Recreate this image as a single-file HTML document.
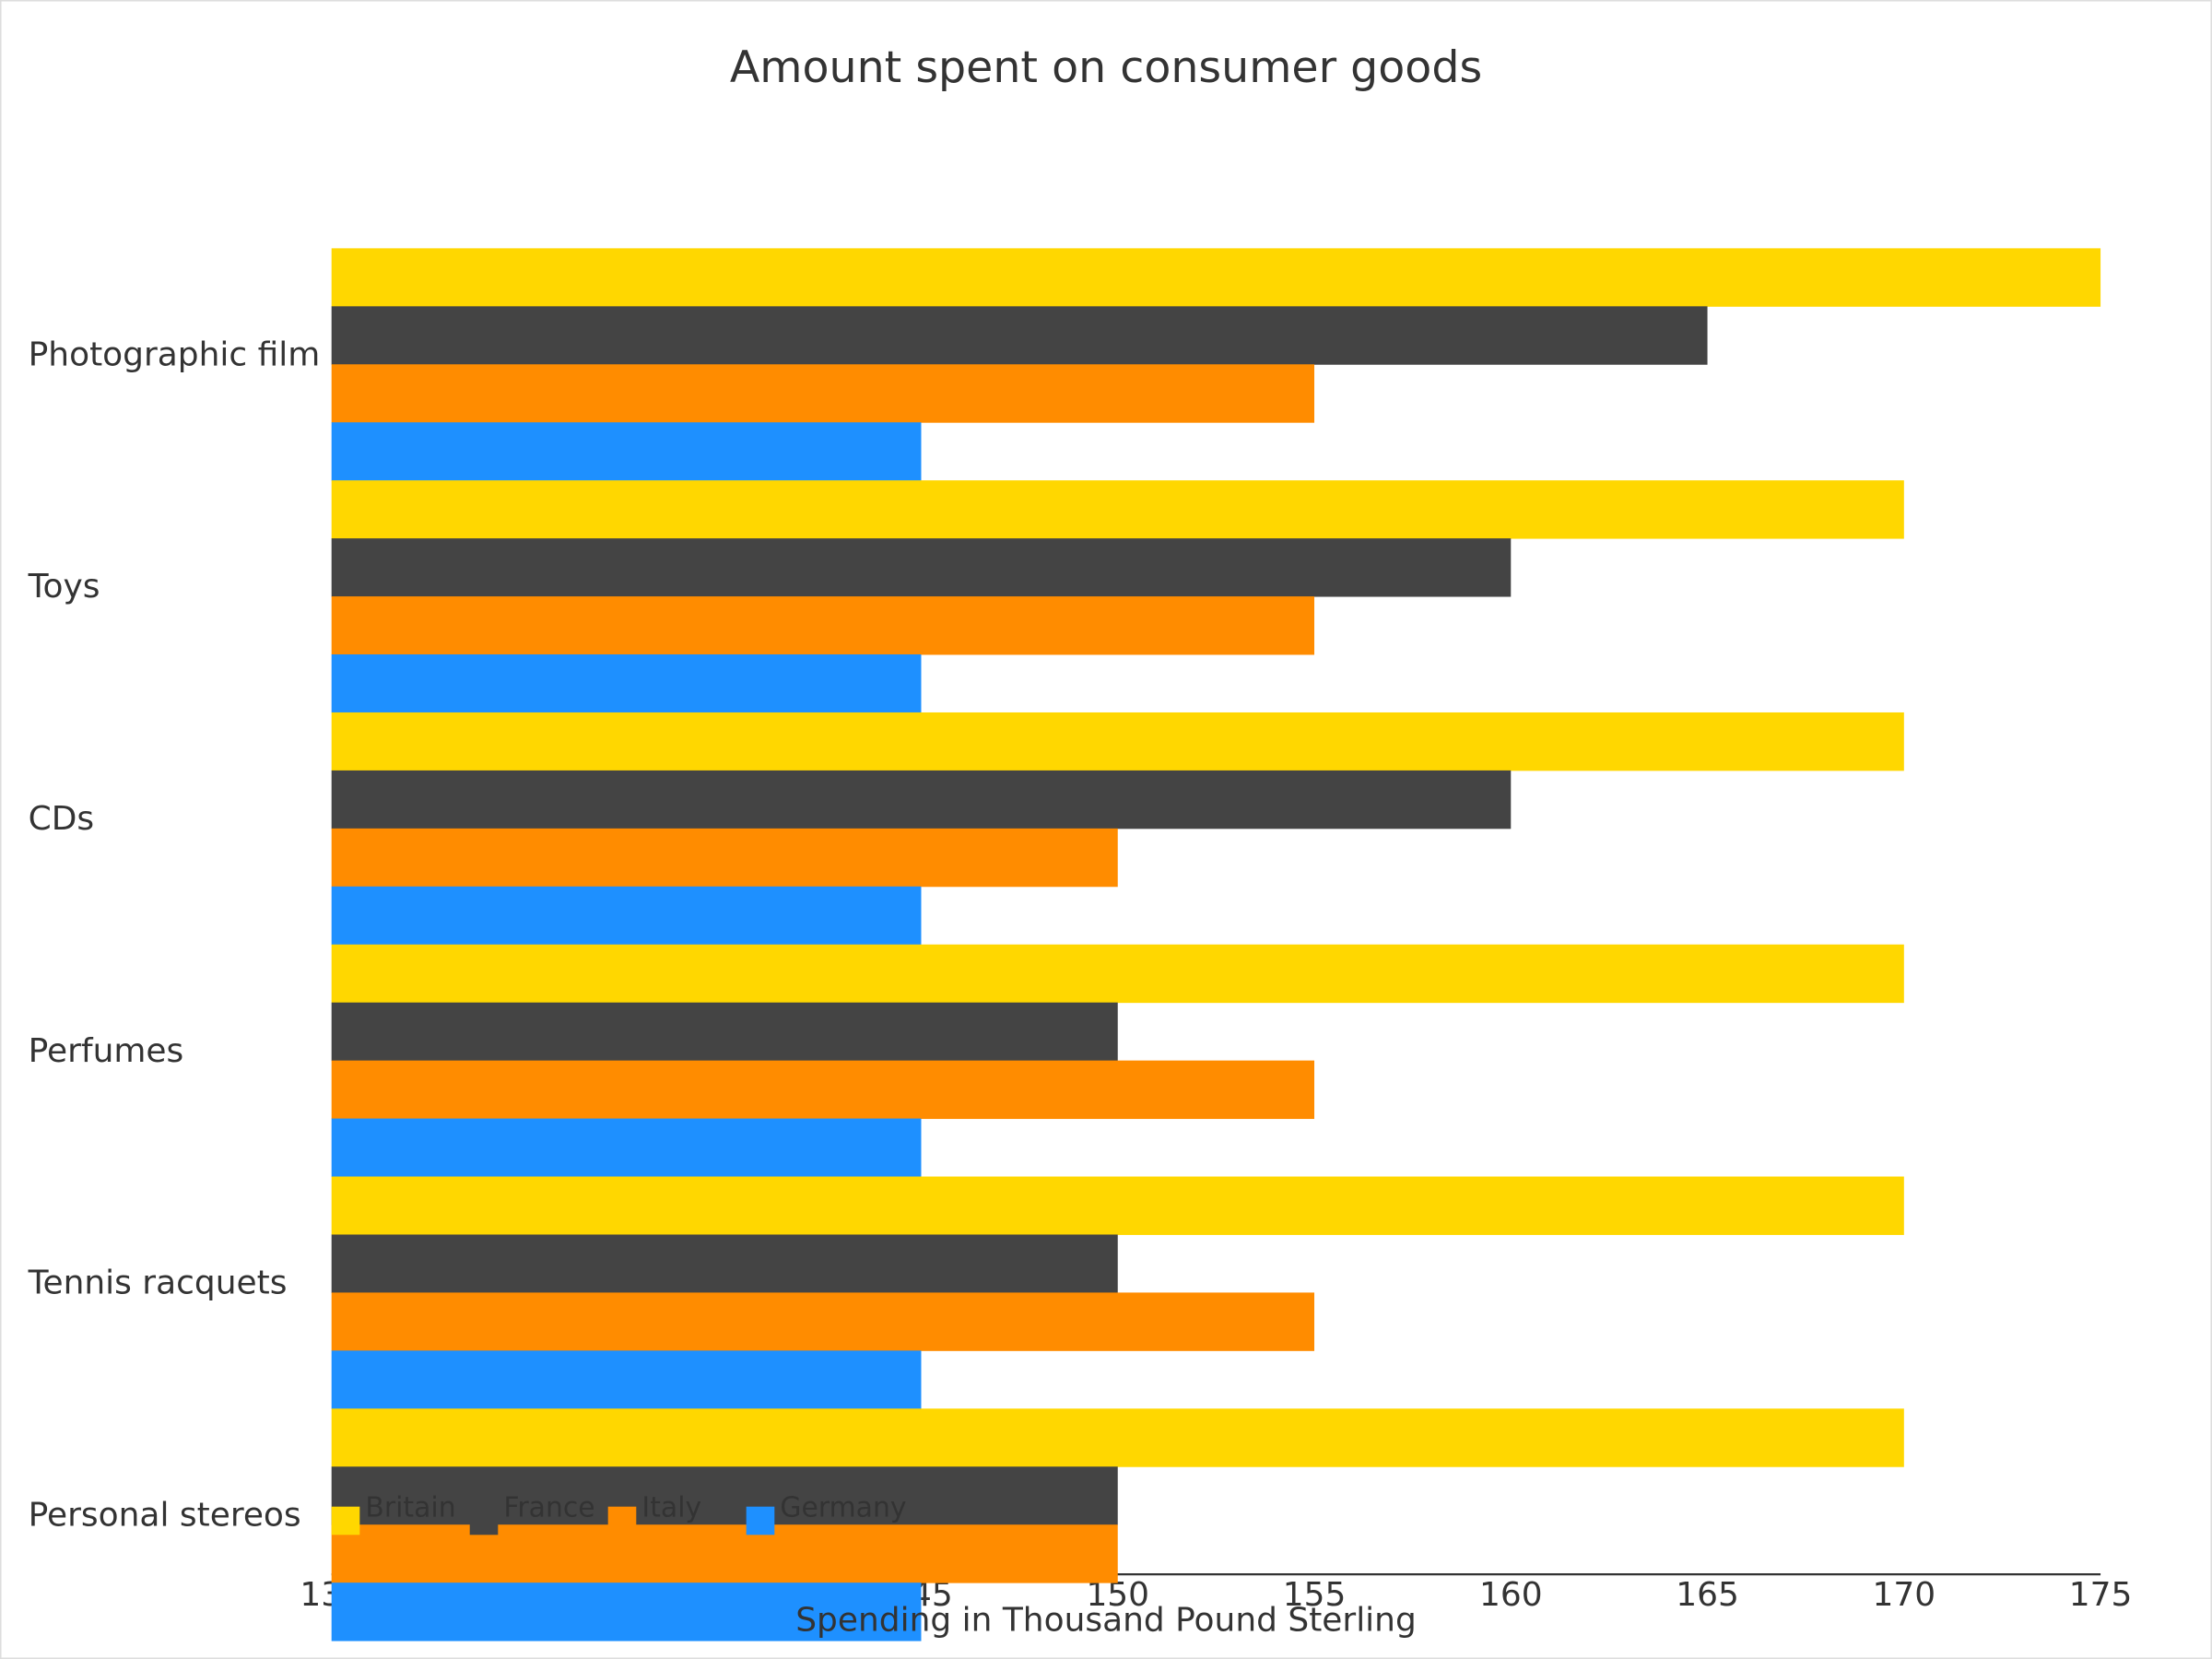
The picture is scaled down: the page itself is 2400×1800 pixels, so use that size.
<!DOCTYPE html>
<html><head><meta charset="utf-8"><style>
html,body{margin:0;padding:0;background:#fff;}
svg{display:block;font-family:"DejaVu Sans","Liberation Sans",sans-serif;}
</style></head><body>
<svg id="chart" width="2400" height="1800" viewBox="0 0 1568 1176" xmlns="http://www.w3.org/2000/svg">
<rect x="0.5" y="0.5" width="1567" height="1175" fill="#fff" stroke="#ddd" stroke-width="1"/>
<text x="784" y="58" text-anchor="middle" font-size="31" fill="#333">Amount spent on consumer goods</text>
<g id="axis"></g>
<g id="bars"></g>
<g id="cats"></g>
<text x="784" y="1156" text-anchor="middle" font-size="23.5" fill="#333">Spending in Thousand Pound Sterling</text>
<g id="legend"></g>
</svg>
<script>
const categories = ["Photographic film","Toys","CDs","Perfumes","Tennis racquets","Personal stereos"];
const seriesNames = ["Britain","France","Italy","Germany"];
const britain = [175,170,170,170,170,170];
const france = [165,160,160,150,150,150];
const italy = [155,155,150,155,155,150];
const germany = [145,145,145,145,145,145];
const ticks = [130,135,140,145,150,155,160,165,170,175];
const tickLabels = ["130","135","140","145","150","155","160","165","170","175"];
const series = [britain, france, italy, germany];
const colors = ["#FFD700","#444444","#FF8C00","#1E90FF"];
const NS = "http://www.w3.org/2000/svg";
const x0 = 235, x1 = 1489, vmin = 130, vmax = 175;
const top0 = 176, groupH = 164.5, barH = groupH / 4, axisY = 1116;
function xs(v){ return x0 + (v - vmin) / (vmax - vmin) * (x1 - x0); }
function mk(tag, attrs, parent){ const e = document.createElementNS(NS, tag); for (const k in attrs) e.setAttribute(k, attrs[k]); parent.appendChild(e); return e; }
const axis = document.getElementById('axis');
const al = mk('line', {x1:x0, x2:x1, y1:axisY, y2:axisY, stroke:'#333', 'stroke-width':1.5}, axis);


ticks.forEach((t, i) => {
  const tx = mk('text', {x:xs(t), y:axisY+22, 'text-anchor':'middle', 'font-size':23.5, fill:'#333'}, axis);
  tx.textContent = tickLabels[i];
  
  
});
const bars = document.getElementById('bars');
categories.forEach((c, ci) => {
  series.forEach((s, si) => {
    const y = top0 + ci * groupH + si * barH;
    const r = mk('rect', {x:xs(vmin), y:y, width:xs(s[ci]) - xs(vmin), height:barH + 0.3, fill:colors[si]}, bars);
    
    
  });
});
const cats = document.getElementById('cats');
categories.forEach((c, ci) => {
  const t = mk('text', {x:20, y:top0 + ci * groupH + 75 + 8, 'font-size':23.5, fill:'#333'}, cats);
  t.textContent = c;
  
  
});
const legend = document.getElementById('legend');
seriesNames.forEach((n, i) => {
  const lx = 235 + i * 98;
  const sq = mk('rect', {x:lx, y:1068, width:20, height:20, fill:colors[i]}, legend);
  
  
  const t = mk('text', {x:lx + 24, y:1075, 'font-size':19.5, fill:'#333'}, legend);
  t.textContent = n;
  
  
});
</script>
</body></html>
